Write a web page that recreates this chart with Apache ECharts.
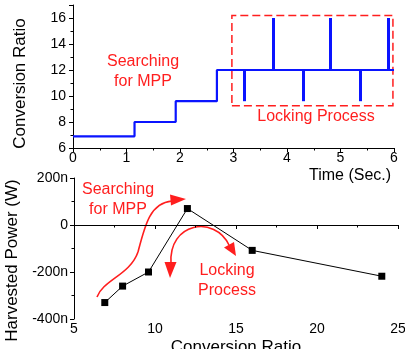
<!DOCTYPE html>
<html><head><meta charset="utf-8">
<script src="https://cdn.jsdelivr.net/npm/echarts@6/dist/echarts.min.js"></script>
<style>html,body{margin:0;padding:0;background:#fff}#c{width:405px;height:349px}</style>
</head><body><div id="c"></div>
<script>
// Top panel: conversion ratio vs time (step changes)
const stepTimes  = [0, 1.15, 1.92, 2.69, 6.0];
const stepLevels = [6.9, 8.0, 9.6, 12.0];
const spikeTimes  = [3.2, 3.75, 4.3, 4.8, 5.36, 5.9];
const spikeLevels = [9.6, 16, 9.6, 16, 9.6, 16];
const lockBox = [[2.97, 9.25], [5.98, 16.2]];
// Bottom panel: harvested power (nW) vs conversion ratio
const ratios = [6.9, 8, 9.6, 12, 16, 24];
const powers = [-330, -260, -200, 70, -108, -218];

const FONT = 'Liberation Sans, Arial, sans-serif';
const BLUE = '#0a14ff', RED = '#ff1e1e';

const stepData = [];
for (let i = 0; i < stepLevels.length; i++) {
  stepData.push([stepTimes[i], stepLevels[i]]);
  stepData.push([stepTimes[i + 1], stepLevels[i]]);
}
const spikeLines = spikeTimes.map((t, i) => [{coord: [t, 12]}, {coord: [t, spikeLevels[i]]}]);

function axisCommon(margin) {
  return {
    axisLine: {lineStyle: {color: '#000', width: 1}},
    axisTick: {show: true, inside: false, length: 4, lineStyle: {color: '#000'}},
    minorTick: {show: true, splitNumber: 2, length: 2.5, lineStyle: {color: '#000'}},
    splitLine: {show: false},
    axisLabel: {color: '#000', fontSize: 14, fontFamily: FONT, margin: margin}
  };
}

const chart = echarts.init(document.getElementById('c'), null, {renderer: 'canvas'});
const yBottom = axisCommon(6);
yBottom.axisLabel.formatter = v => (v === 0 ? '0' : v + 'n');
chart.setOption({
  animation: false,
  grid: [
    {left: 73, right: 11, top: 5, bottom: 201, containLabel: false, outerBoundsMode: 'none'},
    {left: 74, right: 7, top: 178, bottom: 30, containLabel: false, outerBoundsMode: 'none'}
  ],
  xAxis: [
    Object.assign(axisCommon(3), {
      gridIndex: 0, type: 'value', min: 0, max: 6, interval: 1,
      name: 'Time (Sec.)', nameLocation: 'end', nameGap: -85,
      nameTextStyle: {color: '#000', fontSize: 16, fontFamily: FONT, align: 'left', verticalAlign: 'top', padding: [20, 0, 0, 0]}
    }),
    Object.assign(axisCommon(3), {
      gridIndex: 1, type: 'value', min: 5, max: 25, interval: 5,
      name: 'Conversion Ratio', nameLocation: 'middle', nameGap: 20,
      nameTextStyle: {color: '#000', fontSize: 17, fontFamily: FONT}
    })
  ],
  yAxis: [
    Object.assign(axisCommon(7), {
      gridIndex: 0, type: 'value', min: 6, max: 17, interval: 2,
      name: 'Conversion Ratio', nameLocation: 'middle', nameGap: 44,
      nameTextStyle: {color: '#000', fontSize: 17, fontFamily: FONT, padding: [0, 14, 0, 0]}
    }),
    Object.assign(yBottom, {
      gridIndex: 1, type: 'value', min: -400, max: 200, interval: 200,
      name: 'Harvested Power (W)', nameLocation: 'middle', nameGap: 48,
      nameTextStyle: {color: '#000', fontSize: 17, fontFamily: FONT, padding: [0, 24, 0, 0]}
    })
  ],
  series: [
    {
      type: 'line', xAxisIndex: 0, yAxisIndex: 0, data: stepData,
      showSymbol: false, symbol: 'none', lineStyle: {color: BLUE, width: 2.2}, z: 3,
      markLine: {
        silent: true, symbol: 'none', label: {show: false},
        lineStyle: {color: BLUE, width: 3, type: 'solid'},
        data: spikeLines
      },
      markArea: {
        silent: true, label: {show: false},
        itemStyle: {color: 'rgba(0,0,0,0)', borderColor: RED, borderWidth: 1.5, borderType: [8, 4]},
        data: [[{coord: lockBox[0]}, {coord: lockBox[1]}]]
      }
    },
    {
      type: 'line', xAxisIndex: 1, yAxisIndex: 1,
      data: ratios.map((r, i) => [r, powers[i]]),
      symbol: 'rect', symbolSize: 7, itemStyle: {color: '#000'},
      lineStyle: {color: '#000', width: 1}
    }
  ],
  graphic: [
    {type: 'text', x: 143, y: 72, style: {text: 'Searching\nfor MPP', fill: RED, font: '16px ' + FONT, align: 'center', verticalAlign: 'middle', lineHeight: 20}},
    {type: 'text', x: 316, y: 117, style: {text: 'Locking Process', fill: RED, font: '16px ' + FONT, align: 'center', verticalAlign: 'middle'}},
    {type: 'text', x: 118, y: 200, style: {text: 'Searching\nfor MPP', fill: RED, font: '16px ' + FONT, align: 'center', verticalAlign: 'middle', lineHeight: 20}},
    {type: 'text', x: 227, y: 281, style: {text: 'Locking\nProcess', fill: RED, font: '16px ' + FONT, align: 'center', verticalAlign: 'middle', lineHeight: 20}},
    {type: 'bezierCurve', shape: {x1: 97, y1: 297, cpx1: 103, cpy1: 280, cpx2: 130, cpy2: 275, x2: 138, y2: 252}, style: {stroke: RED, lineWidth: 1.6, fill: null}},
    {type: 'bezierCurve', shape: {x1: 138, y1: 252, cpx1: 145, cpy1: 225, cpx2: 150, cpy2: 203, x2: 172, y2: 201}, style: {stroke: RED, lineWidth: 1.6, fill: null}},
    {type: 'polygon', shape: {points: [[186, 199], [170, 194.5], [171, 205.5]]}, style: {fill: RED}},
    {type: 'bezierCurve', shape: {x1: 171, y1: 264, cpx1: 168, cpy1: 222, cpx2: 215, cpy2: 215, x2: 229, y2: 245}, style: {stroke: RED, lineWidth: 1.6, fill: null}},
    {type: 'polygon', shape: {points: [[170, 278], [164.5, 262], [176.5, 262]]}, style: {fill: RED}},
    {type: 'polygon', shape: {points: [[236, 256], [224, 247.5], [234, 242]]}, style: {fill: RED}}
  ]
});
</script></body></html>
